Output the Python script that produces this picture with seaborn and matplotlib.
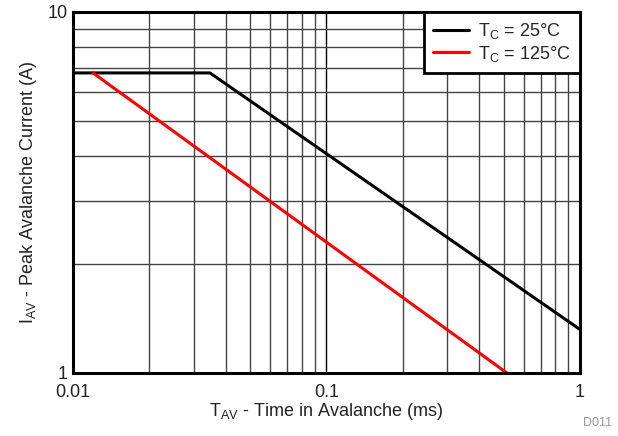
import matplotlib
matplotlib.use("Agg")
import matplotlib.pyplot as plt
import seaborn as sns
import pandas as pd
from matplotlib.ticker import LogLocator, FixedLocator, NullFormatter

sns.set_theme(style="white")
plt.rcParams['font.family'] = ['Liberation Sans', 'DejaVu Sans']

# Data
t25 = [0.01, 0.0347, 1.0]
i25 = [6.78, 6.78, 1.32]
t125 = [0.012, 0.515]
i125 = [6.78, 1.0]
labels = ["T$_\\mathregular{C}$ = 25°C", "T$_\\mathregular{C}$ = 125°C"]
colors = ["black", "red"]

df = pd.concat([
    pd.DataFrame({"t": t25, "i": i25, "s": labels[0]}),
    pd.DataFrame({"t": t125, "i": i125, "s": labels[1]}),
])

fig = plt.figure(figsize=(6.18, 4.36), dpi=100)
ax = fig.add_axes([0.118, 0.1445, 0.8205, 0.828])

sns.lineplot(data=df, x="t", y="i", hue="s", palette=colors, sort=False,
             estimator=None, linewidth=2.2, ax=ax)

ax.set_xscale("log")
ax.set_yscale("log")
ax.set_xlim(0.01, 1)
ax.set_ylim(1, 10)

ax.xaxis.set_major_locator(FixedLocator([0.01, 0.1, 1]))
ax.xaxis.set_minor_locator(LogLocator(base=10, subs=range(2, 10)))
ax.yaxis.set_major_locator(FixedLocator([1, 10]))
ax.yaxis.set_minor_locator(LogLocator(base=10, subs=range(2, 10)))
ax.xaxis.set_minor_formatter(NullFormatter())
ax.yaxis.set_minor_formatter(NullFormatter())
ax.set_xticklabels(["0.01", "0.1", "1"])
ax.set_yticklabels(["1", "10"])

ax.grid(True, which="major", color="black", linewidth=1.0)
ax.grid(True, which="minor", color="#444444", linewidth=1.0)
ax.tick_params(which="both", length=0, labelsize=13, colors="#222222")
ax.tick_params(axis="x", pad=8)
ax.tick_params(axis="y", pad=4)

for sp in ax.spines.values():
    sp.set_color("black")
    sp.set_linewidth(2.2)
    sp.set_zorder(5)

ax.set_xlabel("T$_\\mathregular{AV}$ - Time in Avalanche (ms)", fontsize=13, color="#222222", labelpad=0)
ax.set_ylabel("I$_\\mathregular{AV}$ - Peak Avalanche Current (A)", fontsize=13, color="#222222", labelpad=6)

leg = ax.legend(loc="upper right", fontsize=13, frameon=True, fancybox=False,
                borderaxespad=0, handlelength=2.0, handletextpad=0.5,
                labelspacing=0.15, borderpad=0.5, title=None)
leg.get_frame().set_edgecolor("black")
leg.get_frame().set_linewidth(2.0)
leg.get_frame().set_alpha(1)

fig.text(0.99, 0.015, "D011", ha="right", va="bottom", fontsize=9, color="#999999")

fig.savefig("out.png", dpi=100)
